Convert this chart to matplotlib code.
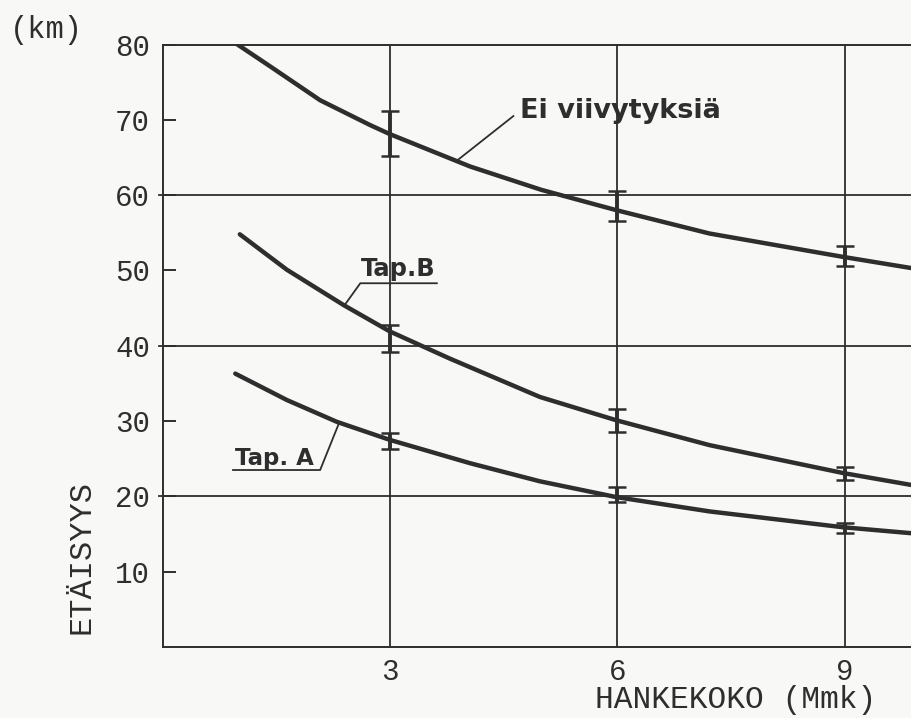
import matplotlib
matplotlib.use('Agg')
import matplotlib.pyplot as plt
import numpy as np

# curves (x = HANKEKOKO Mmk, y = ETÄISYYS km)
ei_x = [0.96, 1.42, 2.08, 2.74, 3.0, 4.06, 5.0, 5.99, 7.22, 8.98, 9.89]
ei_y = [80.2, 77.1, 72.6, 69.3, 68.1, 63.8, 60.7, 58.0, 54.9, 51.8, 50.3]

tapb_x = [1.02, 1.64, 2.39, 3.0, 3.79, 4.98, 5.99, 7.22, 8.98, 9.89]
tapb_y = [54.8, 50.1, 45.4, 41.9, 38.3, 33.2, 30.1, 26.8, 23.1, 21.5]

tapa_x = [0.96, 1.64, 2.30, 3.0, 4.06, 4.98, 5.99, 7.22, 8.98, 9.89]
tapa_y = [36.3, 32.8, 29.9, 27.5, 24.4, 22.0, 19.9, 18.0, 15.9, 15.1]

# error bars (low, high) at x = 3, 6, 9
err_x = [3, 6, 9]
ei_lo = [65.2, 56.5, 50.6]
ei_hi = [71.2, 60.5, 53.2]
tapb_lo = [39.2, 28.5, 22.2]
tapb_hi = [42.8, 31.6, 23.9]
tapa_lo = [26.3, 19.2, 15.1]
tapa_hi = [28.4, 21.3, 16.4]

y_ticks = [10, 20, 30, 40, 50, 60, 70, 80]
x_ticks = [3, 6, 9]
grid_y = [20, 40, 60]

INK = '#2e2e2e'
BG = '#f8f8f6'
MONO = 'Liberation Mono'
SANS = 'DejaVu Sans'

fig = plt.figure(figsize=(9.12, 7.18), dpi=100, facecolor=BG)
ax = fig.add_axes([0.1782, 0.0989, 0.8218, 0.8391], facecolor=BG)
ax.set_xlim(0, 9.89)
ax.set_ylim(0, 80)

# grid
for gx in x_ticks:
    ax.plot([gx, gx], [0, 80], color=INK, lw=1.3, zorder=1)
for gy in grid_y:
    ax.plot([-0.05, 9.89], [gy, gy], color=INK, lw=1.3, zorder=1, clip_on=False)

# curves
for xs, ys in [(ei_x, ei_y), (tapb_x, tapb_y), (tapa_x, tapa_y)]:
    ax.plot(xs, ys, color=INK, lw=3.2, solid_capstyle='round',
            solid_joinstyle='round', zorder=3)

# error bars
for lo, hi in [(ei_lo, ei_hi), (tapb_lo, tapb_hi), (tapa_lo, tapa_hi)]:
    lo = np.array(lo)
    hi = np.array(hi)
    mid = (lo + hi) / 2
    ax.errorbar(err_x, mid, yerr=(hi - lo) / 2, fmt='none', ecolor=INK,
                elinewidth=2.8, capsize=6.5, capthick=1.8, zorder=4)

# spines and ticks
ax.spines['right'].set_visible(False)
for s in ['left', 'bottom', 'top']:
    ax.spines[s].set_color(INK)
    ax.spines[s].set_linewidth(1.4)

ax.set_yticks(y_ticks)
ax.set_yticklabels([str(v) for v in y_ticks])
ax.tick_params(axis='y', direction='in', length=9, width=1.4, color=INK,
               pad=9, labelsize=21, labelcolor=INK)
ax.set_xticks(x_ticks)
ax.set_xticklabels([str(v) for v in x_ticks])
ax.tick_params(axis='x', length=0, pad=8, labelsize=21, labelcolor=INK)
for lab in ax.get_xticklabels() + ax.get_yticklabels():
    lab.set_fontfamily(MONO)

# curve labels
ax.text(4.72, 70.3, 'Ei viivytyksiä', fontsize=19.5, fontweight='bold',
        family=SANS, color=INK, va='baseline', ha='left')
ax.plot([3.90, 4.63], [64.7, 70.5], color=INK, lw=1.3, zorder=2)

ax.text(2.62, 49.2, 'Tap.B', fontsize=17.5, fontweight='bold',
        family=SANS, color=INK, va='baseline', ha='left')
ax.plot([2.41, 2.61, 3.62], [45.5, 48.3, 48.3], color=INK, lw=1.3, zorder=2)

ax.text(0.95, 24.1, 'Tap. A', fontsize=16.5, fontweight='bold',
        family=SANS, color=INK, va='baseline', ha='left')
ax.plot([2.32, 2.08, 0.93], [29.5, 23.5, 23.5], color=INK, lw=1.3, zorder=2)

# axis titles
fig.text(10 / 912, 1 - 30 / 718, '(km)', fontsize=22, family=MONO,
         color=INK, ha='left', va='center')
fig.text(82 / 912, 1 - 557 / 718, 'ETÄISYYS', fontsize=23, family=MONO,
         color=INK, ha='center', va='center', rotation=90)
fig.text(595 / 912, 3 / 718, 'HANKEKOKO (Mmk)', fontsize=22.5, family=MONO,
         color=INK, ha='left', va='bottom')

fig.savefig('out.png', dpi=100, facecolor=BG)
